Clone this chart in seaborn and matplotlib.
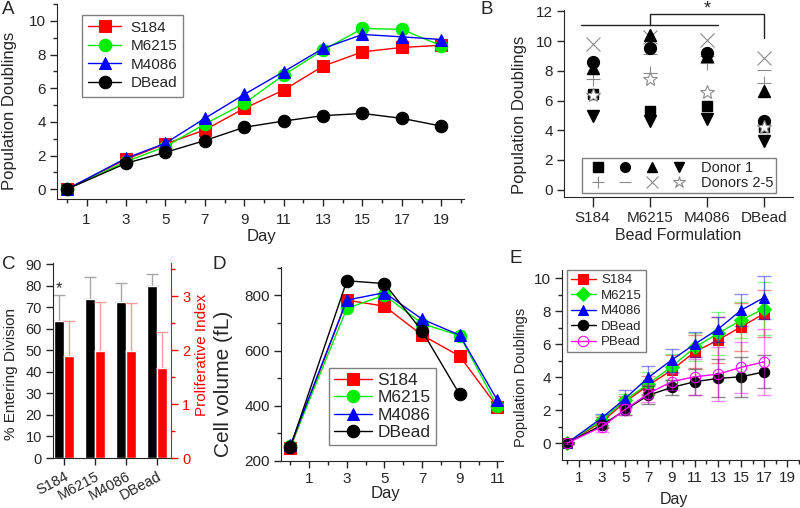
import numpy as np
import matplotlib
matplotlib.use("Agg")
import matplotlib.pyplot as plt
import seaborn as sns
from matplotlib.lines import Line2D
from matplotlib.legend_handler import HandlerTuple

sns.set_style("ticks")
plt.rcParams['font.family'] = ['Liberation Sans', 'DejaVu Sans']

# ---------------- data ----------------
beads = ["S184", "M6215", "M4086", "DBead"]
col = {"S184": "#ff0000", "M6215": "#00ee00", "M4086": "#0000ff",
       "DBead": "#000000", "PBead": "#ff00ff"}

# A: population doublings vs day
days_a = [0, 3, 5, 7, 9, 11, 13, 15, 17, 19]
s184_a = [0, 1.78, 2.69, 3.52, 4.80, 5.89, 7.31, 8.16, 8.42, 8.55]
m6215_a = [0, 1.64, 2.53, 3.87, 5.10, 6.78, 8.26, 9.55, 9.49, 8.52]
m4086_a = [0, 1.84, 2.73, 4.21, 5.63, 6.98, 8.36, 9.19, 9.05, 8.89]
dbead_a = [0, 1.54, 2.19, 2.89, 3.68, 4.05, 4.37, 4.50, 4.21, 3.75]

# B: population doublings per donor (S184, M6215, M4086, DBead)
d1_square = [6.45, 5.30, 5.62, 4.20]
d1_circle = [8.57, 9.55, 9.20, 4.60]
d1_up = [8.22, 10.40, 8.97, 6.62]
d1_down = [4.93, 4.62, 4.76, 3.30]
d2_plus = [7.48, 7.85, 8.55, 7.15]
d2_minus = [6.50, 9.15, 9.00, 8.07]
d2_cross = [9.78, 10.30, 10.10, 8.85]
d2_star = [6.35, 7.45, 6.55, 4.20]

# C: % entering division / proliferative index
entering = [63.7, 73.8, 72.3, 79.7]
entering_err = [12.1, 10.2, 8.7, 5.6]
prolif = [1.90, 1.99, 1.99, 1.68]
prolif_err = [0.64, 0.90, 0.88, 0.65]

# D: cell volume
days_d = [0, 3, 5, 7, 9, 11]
s184_d = [248, 783, 761, 656, 580, 396]
m6215_d = [253, 753, 801, 698, 654, 398]
m4086_d = [257, 783, 810, 714, 656, 420]
days_d_dbead = [0, 3, 5, 7, 9]
dbead_d = [251, 853, 843, 671, 441]

# E: population doublings with error
days_e = [0, 3, 5, 7, 9, 11, 13, 15, 17]
s184_e = [0, 1.29, 2.50, 3.50, 4.42, 5.53, 6.24, 7.05, 7.86]
s184_err = [0.05, 0.30, 0.35, 0.55, 0.90, 1.00, 1.40, 1.45, 1.40]
m6215_e = [0, 1.39, 2.60, 3.60, 4.63, 5.80, 6.65, 7.45, 8.16]
m6215_err = [0.05, 0.30, 0.40, 0.70, 0.80, 0.85, 1.30, 1.10, 1.60]
m4086_e = [0, 1.53, 2.70, 3.98, 5.03, 6.00, 6.90, 8.06, 8.83]
m4086_err = [0.05, 0.25, 0.50, 0.70, 0.70, 0.75, 0.76, 0.97, 1.30]
dbead_e = [0, 1.09, 2.00, 2.90, 3.37, 3.72, 3.92, 4.02, 4.32]
dbead_err = [0.05, 0.20, 0.30, 0.55, 0.45, 0.80, 1.15, 1.20, 1.00]
pbead_e = [0, 0.99, 2.04, 3.00, 3.72, 4.02, 4.18, 4.59, 4.93]
pbead_err = [0.05, 0.30, 0.35, 0.50, 0.50, 1.10, 1.65, 1.55, 2.00]

# ---------------- figure ----------------
W, H = 800, 508
fig = plt.figure(figsize=(W / 100, H / 100), dpi=100)


def px_axes(left, top, right, bottom):
    return fig.add_axes([left / W, 1 - bottom / H, (right - left) / W, (bottom - top) / H])


def style_ticks(ax, size=11):
    ax.tick_params(which="major", length=5, width=1, labelsize=size, pad=3)
    ax.tick_params(which="minor", length=3, width=1)


legend_kw = dict(frameon=True, fancybox=False, edgecolor="#808080", framealpha=1)

# ---- A ----
axA = px_axes(57, 4, 464, 199)
for name, vals, mk in zip(beads, [s184_a, m6215_a, m4086_a, dbead_a], ["s", "o", "^", "o"]):
    sns.lineplot(x=days_a, y=vals, color=col[name], marker=mk, markersize=9,
                 markeredgecolor=col[name], linewidth=1, label=name, ax=axA)
axA.set_xlim(-0.5, 20.15)
axA.set_ylim(-0.58, 11)
axA.set_xticks(range(1, 20, 2))
axA.set_xticks(range(0, 21, 2), minor=True)
axA.set_yticks(range(0, 11, 2))
axA.set_yticks(range(1, 12, 2), minor=True)
style_ticks(axA)
axA.tick_params(axis="x", which="major", pad=5)
axA.set_xlabel("Day", fontsize=12)
axA.set_ylabel("Population Doublings", fontsize=12)
axA.xaxis.set_label_coords(0.503, -0.155)
axA.yaxis.set_label_coords(-0.098, 0.45)
axA.legend(loc="upper left", bbox_to_anchor=(0.042, 0.985), fontsize=11,
           handlelength=2.2, handletextpad=0.6, labelspacing=0.3, borderpad=0.4, **legend_kw)
sns.despine(ax=axA)

# ---- B ----
axB = px_axes(564, 10, 793, 197)
xb = [1, 2, 3, 4]
gray = "#8a8a8a"
axB.plot(xb, d2_plus, ls="none", marker="+", ms=10, mec=gray, mew=0.8)
axB.plot(xb, d2_minus, ls="none", marker="_", ms=10, mec=gray, mew=0.8)
axB.plot(xb, d2_cross, ls="none", marker="x", ms=10, mec=gray, mew=0.8)
axB.plot(xb, d1_square, ls="none", marker="s", ms=7.5, color="black")
axB.plot(xb, d1_circle, ls="none", marker="o", ms=8.5, color="black")
axB.plot(xb, d1_up, ls="none", marker="^", ms=9, color="black")
axB.plot(xb, d1_down, ls="none", marker="v", ms=9, color="black")
axB.plot(xb, d2_star, ls="none", marker="*", ms=10, mec=gray, mfc="white", mew=0.8)
# significance bracket
axB.plot([0.79, 3.19], [11.1, 11.1], color="#222222", lw=1, clip_on=False)
axB.plot([2, 2, 4, 4], [11.1, 11.8, 11.8, 10.2], color="#222222", lw=1, clip_on=False)
axB.text(3, 12.2, "*", ha="center", va="center", fontsize=13)
h1 = tuple(Line2D([], [], ls="none", marker=m, ms=7, color="black") for m in ["s", "o", "^", "v"])
h2 = tuple(Line2D([], [], ls="none", marker=m, ms=9, mec=gray, mfc="white", mew=0.8)
           for m in ["+", "_", "x", "*"])
axB.legend([h1, h2], ["Donor 1", "Donors 2-5"], handler_map={tuple: HandlerTuple(ndivide=None, pad=0)},
           loc="lower left", bbox_to_anchor=(0.079, 0.021), handlelength=7.4, handletextpad=0.55,
           labelspacing=0.1, borderpad=0.2, borderaxespad=0, fontsize=10.5, **legend_kw)
axB.set_xlim(0.5, 4.5)
axB.set_ylim(-0.5, 12.1)
axB.set_xticks(xb)
axB.set_xticklabels(beads)
axB.set_yticks(range(0, 13, 2))
style_ticks(axB)
axB.tick_params(axis="x", length=7)
axB.set_xlabel("Bead Formulation", fontsize=11.5)
axB.set_ylabel("Population Doublings", fontsize=12)
axB.xaxis.set_label_coords(0.5, -0.165)
axB.yaxis.set_label_coords(-0.162, 0.44)
sns.despine(ax=axB)

# ---- C ----
axC = px_axes(53, 263, 171, 458)
xc = np.arange(4)
w = 0.33
axC.errorbar(xc - w / 2, entering, yerr=[np.zeros(4), entering_err], fmt="none",
             ecolor="#a8a8a8", capsize=4, elinewidth=1, zorder=1)
axC.bar(xc - w / 2, entering, width=w, color="black", zorder=2)
axC.text(-w / 2, 78.5, "*", ha="center", va="center", fontsize=12)
axC.set_xlim(-0.35, 3.45)
axC.set_ylim(0, 90.5)
axC.set_yticks(range(0, 91, 10))
axC.set_xticks(xc)
axC.set_xticklabels(beads, rotation=28, ha="right", rotation_mode="anchor")
style_ticks(axC, 10.5)
axC.set_ylabel("% Entering Division", fontsize=11)
axC.yaxis.set_label_coords(-0.30, 0.43)
axR = axC.twinx()
axR.errorbar(xc + w / 2, prolif, yerr=[np.zeros(4), prolif_err], fmt="none",
             ecolor="#ff9a9a", capsize=4, elinewidth=1, zorder=1)
axR.bar(xc + w / 2, prolif, width=w, color="#ff0000", zorder=2)
axR.set_ylim(0, 3.62)
axR.set_yticks([0, 1, 2, 3])
axR.set_yticks([0.5, 1.5, 2.5, 3.5], minor=True)
style_ticks(axR, 10.5)
axR.tick_params(which="both", colors="#ff0000")
axR.spines["right"].set_color("#ff0000")
for s in ["top", "left", "bottom"]:
    axR.spines[s].set_visible(False)
axC.spines["top"].set_visible(False)
axC.spines["right"].set_visible(False)
axR.set_ylabel("Proliferative Index", fontsize=11, color="#ff0000")
axR.yaxis.set_label_coords(1.20, 0.53)

# ---- D ----
axD = px_axes(281, 267, 503, 461)
for name, xs, vals, mk in zip(beads, [days_d, days_d, days_d, days_d_dbead],
                              [s184_d, m6215_d, m4086_d, dbead_d], ["s", "o", "^", "o"]):
    sns.lineplot(x=xs, y=vals, color=col[name], marker=mk, markersize=9,
                 markeredgecolor=col[name], linewidth=1, label=name, ax=axD)
axD.set_xlim(-0.5, 11.3)
axD.set_ylim(200, 903)
axD.set_xticks(range(1, 12, 2))
axD.set_xticks(range(0, 12, 2), minor=True)
axD.set_yticks(range(200, 801, 200))
axD.set_yticks(range(300, 901, 200), minor=True)
style_ticks(axD)
axD.set_xlabel("Day", fontsize=12)
axD.set_ylabel("Cell volume (fL)", fontsize=15)
axD.xaxis.set_label_coords(0.47, -0.13)
axD.yaxis.set_label_coords(-0.215, 0.4)
axD.legend(loc="lower left", bbox_to_anchor=(0.216, 0.082), fontsize=12.5, handlelength=2.2,
           handletextpad=0.3, labelspacing=0.12, borderpad=0.3, borderaxespad=0, **legend_kw)
sns.despine(ax=axD)

# ---- E ----
axE = px_axes(562, 270, 799, 460)
e_series = [("S184", s184_e, s184_err, "s"), ("M6215", m6215_e, m6215_err, "D"),
            ("M4086", m4086_e, m4086_err, "^"), ("DBead", dbead_e, dbead_err, "o"),
            ("PBead", pbead_e, pbead_err, "o")]
for name, vals, err, mk in e_series:
    axE.errorbar(days_e, vals, yerr=err, fmt="none", ecolor=col[name], alpha=0.45,
                 capsize=5, elinewidth=1)
    face = "none" if name == "PBead" else col[name]
    sns.lineplot(x=days_e, y=vals, color=col[name], marker=mk, markersize=7.5,
                 markeredgecolor=col[name], markerfacecolor=face, linewidth=1, label=name, ax=axE)
axE.set_xlim(-0.45, 20)
axE.set_ylim(-1.03, 10.5)
axE.set_xticks(range(1, 20, 2))
axE.set_xticks(range(0, 21, 2), minor=True)
axE.set_yticks(range(0, 11, 2))
axE.set_yticks(range(1, 11, 2), minor=True)
style_ticks(axE)
axE.set_xlabel("Day", fontsize=11.5)
axE.set_ylabel("Population Doublings", fontsize=10.5)
axE.xaxis.set_label_coords(0.473, -0.17)
axE.yaxis.set_label_coords(-0.143, 0.434)
axE.legend(loc="upper left", bbox_to_anchor=(0.021, 1.0), fontsize=9.5, handlelength=1.9,
           handletextpad=0.4, labelspacing=0.25, borderpad=0.3, borderaxespad=0, **legend_kw)
sns.despine(ax=axE)

# panel letters
for letter, x, y in [("A", 2, 1), ("B", 481, 1), ("C", 2, 256), ("D", 212, 256), ("E", 510, 250)]:
    fig.text(x / W, 1 - y / H, letter, fontsize=13.5, va="top", ha="left")

fig.savefig("out.png", dpi=100)
